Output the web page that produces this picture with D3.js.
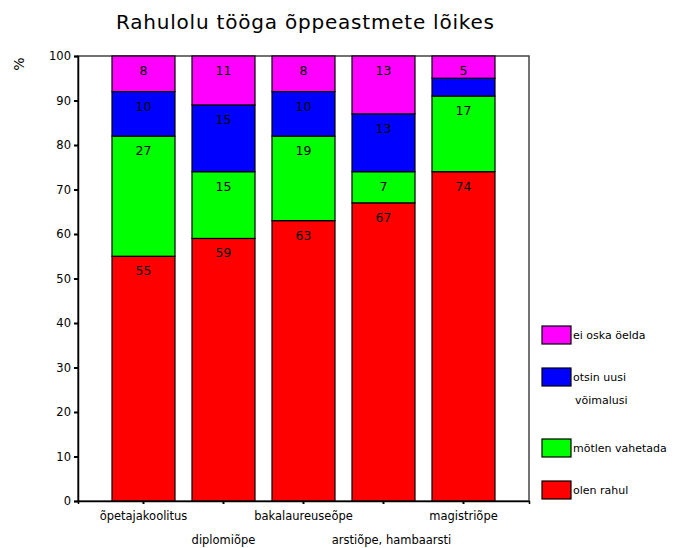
<!DOCTYPE html>
<html><head><meta charset="utf-8">
<script src="https://cdn.jsdelivr.net/npm/d3@7"></script>
<style>body{margin:0;background:#fff}svg{display:block}text{font-family:"DejaVu Sans",sans-serif}</style>
</head><body>
<svg id="c" width="689" height="548"></svg>
<script>
const categories = ["õpetajakoolitus","diplomiõpe","bakalaureuseõpe","arstiõpe, hambaarsti","magistriõpe"];
const seriesNames = ["olen rahul","mõtlen vahetada","otsin uusi võimalusi","ei oska öelda"];
const olenRahul      = [55,59,63,67,74];
const motlenVahetada = [27,15,19,7,17];
const otsinUusi      = [10,15,10,13,4];
const eiOska         = [8,11,8,13,5];
const shownLabels = [[55,59,63,67,74],[27,15,19,7,17],[10,15,10,13,null],[8,11,8,13,5]];
const colors = ["#ff0000","#00ff00","#0000ff","#ff00ff"];
const yTicks = [0,10,20,30,40,50,60,70,80,90,100];
const title = "Rahulolu tööga õppeastmete lõikes";

(function(){
const svg = d3.select("#c");
const pL=78, pR=529, pT=56, pB=501;
const x = d3.scaleBand().domain(categories).range([pL,pR]).paddingInner(0.2125).paddingOuter(0.425);
const y = d3.scaleLinear().domain([0,100]).range([pB,pT]);

const rows = categories.map((c,i)=>({cat:c, v:[olenRahul[i],motlenVahetada[i],otsinUusi[i],eiOska[i]]}));
const stack = d3.stack().keys([0,1,2,3]).value((d,k)=>d.v[k]);
const stacked = stack(rows);

// frame
svg.append("rect").attr("x",pL).attr("y",pT).attr("width",pR-pL).attr("height",pB-pT)
  .attr("fill","none").attr("stroke","#444").attr("stroke-width",1.5);

stacked.forEach((layer,li)=>{
  svg.append("g").selectAll("rect").data(layer).join("rect")
    .attr("x",d=>x(d.data.cat)).attr("width",x.bandwidth())
    .attr("y",d=>y(d[1])).attr("height",d=>y(d[0])-y(d[1]))
    .attr("fill",colors[li]).attr("stroke","#000").attr("stroke-width",1.2);
  const lab = layer.map((d,i)=>({d, t:shownLabels[li][i]})).filter(o=>o.t!=null);
  svg.append("g").selectAll("text").data(lab).join("text")
    .attr("x",o=>x(o.d.data.cat)+x.bandwidth()/2).attr("y",o=>y(o.d[1])+19)
    .attr("text-anchor","middle").attr("font-size",12.5).attr("fill","#000")
    .text(o=>o.t);
});

// y axis
const ya = svg.append("g").attr("transform",`translate(${pL},0)`)
  .call(d3.axisLeft(y).tickValues(yTicks).tickSize(4).tickPadding(3));
ya.select(".domain").attr("stroke","#000").attr("stroke-width",1.5);
ya.selectAll(".tick line").attr("stroke","#000").attr("stroke-width",2);
ya.selectAll(".tick text").attr("font-size",11.5).attr("font-family","DejaVu Sans").attr("fill","#000");

// x axis
const xa = svg.append("g").attr("transform",`translate(0,${pB})`)
  .call(d3.axisBottom(x).tickSize(3).tickFormat(""));
xa.select(".domain").attr("stroke","#000").attr("stroke-width",1.5);
xa.selectAll(".tick line").attr("stroke","#000").attr("stroke-width",2);
svg.append("g").selectAll("text").data(categories).join("text")
  .attr("x",(d,i)=>x(d)+x.bandwidth()/2 + (i===3?8:0))
  .attr("y",(d,i)=>i%2===0?520:544)
  .attr("text-anchor","middle").attr("font-size",11.5).attr("fill","#000").text(d=>d);

// % label
svg.append("text").attr("transform","translate(24,64) rotate(-90)").attr("text-anchor","middle")
  .attr("font-size",14).text("%");

// title
svg.append("text").attr("x",305).attr("y",29).attr("text-anchor","middle").attr("font-size",20)
  .attr("textLength",378).attr("lengthAdjust","spacing")
  .attr("fill","#000").text(title);

// legend
const legendItems = [
  {c:3, lines:["ei oska öelda"], y:326},
  {c:2, lines:["otsin uusi","võimalusi"], y:368},
  {c:1, lines:["mõtlen vahetada"], y:439},
  {c:0, lines:["olen rahul"], y:481}
];
const lg = svg.append("g");
legendItems.forEach(it=>{
  lg.append("rect").attr("x",542).attr("y",it.y).attr("width",29).attr("height",18)
    .attr("fill",colors[it.c]).attr("stroke","#000").attr("stroke-width",1.2);
  it.lines.forEach((t,j)=>{
    lg.append("text").attr("x",j===0?573:575).attr("y",it.y+13+j*23).attr("font-size",11).attr("fill","#000").text(t);
  });
});
})();
</script>
</body></html>
